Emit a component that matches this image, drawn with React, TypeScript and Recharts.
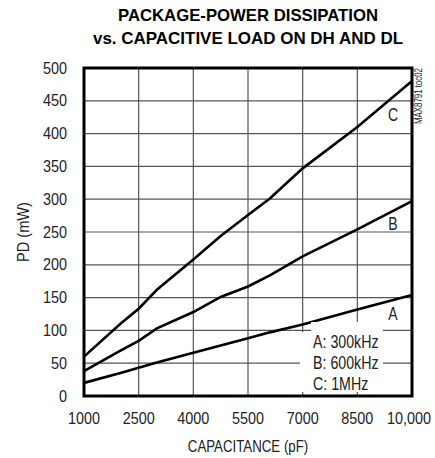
import React from "react";
import {
  LineChart,
  Line,
  XAxis,
  YAxis,
  CartesianGrid,
  ReferenceArea,
  ReferenceDot,
} from "recharts";

// capacitance (pF) and package power dissipation (mW) per switching frequency
const capacitance = [1000, 2000, 2500, 3000, 4000, 4750, 5500, 6100, 7000, 8500, 10000];
const powerA = [20, 35, 43, 51, 66, 77, 88, 97, 109, 132, 154]; // 300kHz
const powerB = [38, 69, 84, 103, 128, 151, 167, 184, 213, 254, 297]; // 600kHz
const powerC = [60, 110, 133, 162, 208, 244, 276, 301, 347, 410, 480]; // 1MHz

const xTicks = [1000, 2500, 4000, 5500, 7000, 8500, 10000];
const yTicks = [0, 50, 100, 150, 200, 250, 300, 350, 400, 450, 500];
const legendLines = ["A: 300kHz", "B: 600kHz", "C: 1MHz"];

const curveTags = [
  { name: "C", x: 9480, y: 429 },
  { name: "B", x: 9480, y: 263 },
  { name: "A", x: 9480, y: 125 },
];

const data = capacitance.map((cap, i) => ({
  cap,
  a: powerA[i],
  b: powerB[i],
  c: powerC[i],
}));

const FONT = "'Liberation Sans', Arial, sans-serif";
const INK = "#222";

const fmtX = (v: number) => (v === 10000 ? "10,000" : String(v));

// Helvetica-narrow look: regular sans squeezed horizontally
function Narrow({
  x,
  y,
  anchor = "start",
  size = 16,
  squeeze = 0.9,
  rotate = 0,
  dy,
  weight,
  children,
}: any) {
  return (
    <text
      x={0}
      y={0}
      dy={dy}
      transform={`translate(${x} ${y}) rotate(${rotate}) scale(${squeeze} 1)`}
      textAnchor={anchor}
      fontFamily={FONT}
      fontSize={size}
      fontWeight={weight}
      fill={INK}
    >
      {children}
    </text>
  );
}

const XTick = ({ x, y, payload }: any) => (
  <Narrow x={x - (payload.value === 10000 ? 3 : 0)} y={y} anchor="middle" dy="0.71em">
    {fmtX(payload.value)}
  </Narrow>
);

const YTick = ({ x, y, payload }: any) => (
  <Narrow x={x} y={y} anchor="end" dy="0.355em">
    {payload.value}
  </Narrow>
);

export default function App() {
  return (
    <div style={{ position: "absolute", left: 0, top: 0, width: 435, height: 458, background: "#fff" }}>
      <LineChart
        width={435}
        height={458}
        data={data}
        margin={{ top: 68, right: 23, bottom: 0, left: 0 }}
      >
        <CartesianGrid stroke="#555" strokeWidth={1.2} verticalValues={xTicks} horizontalValues={yTicks} />
        <XAxis
          dataKey="cap"
          type="number"
          domain={[1000, 10000]}
          ticks={xTicks}
          interval={0}
          axisLine={false}
          tickLine={false}
          tickSize={0}
          tickMargin={17}
          height={62}
          tick={XTick}
          label={{
            content: ({ viewBox }: any) => (
              <Narrow
                x={viewBox.x + viewBox.width / 2}
                y={viewBox.y + viewBox.height - 6}
                anchor="middle"
                squeeze={0.83}
              >
                CAPACITANCE (pF)
              </Narrow>
            ),
          }}
        />
        <YAxis
          type="number"
          domain={[0, 500]}
          ticks={yTicks}
          interval={0}
          axisLine={false}
          tickLine={false}
          tickSize={0}
          tickMargin={17}
          width={84}
          tick={YTick}
          label={{
            content: ({ viewBox }: any) => (
              <Narrow
                x={viewBox.x + 29}
                y={viewBox.y + viewBox.height / 2}
                anchor="middle"
                rotate={-90}
                squeeze={0.91}
              >
                PD (mW)
              </Narrow>
            ),
          }}
        />
        <Line dataKey="a" stroke="#000" strokeWidth={2.6} dot={false} isAnimationActive={false} />
        <Line dataKey="b" stroke="#000" strokeWidth={2.6} dot={false} isAnimationActive={false} />
        <Line dataKey="c" stroke="#000" strokeWidth={2.6} dot={false} isAnimationActive={false} />
        <ReferenceArea
          x1={1000}
          x2={10000}
          y1={0}
          y2={500}
          fill="none"
          fillOpacity={0}
          stroke="#000"
          strokeWidth={3}
          ifOverflow="visible"
        />
        {curveTags.map((t) => (
          <ReferenceDot
            key={t.name}
            x={t.x}
            y={t.y}
            r={0}
            stroke="none"
            fill="none"
            label={{
              content: ({ viewBox }: any) => (
                <Narrow x={viewBox.x} y={viewBox.y} anchor="middle" dy="0.355em" size={18} squeeze={0.78}>
                  {t.name}
                </Narrow>
              ),
            }}
          />
        ))}
      </LineChart>

      {/* title, legend box, figure id */}
      <svg
        width={435}
        height={458}
        style={{ position: "absolute", left: 0, top: 0, pointerEvents: "none" }}
      >
        <text
          x={248}
          y={21}
          textAnchor="middle"
          fontFamily={FONT}
          fontWeight="bold"
          fontSize={17}
          textLength={260}
          lengthAdjust="spacingAndGlyphs"
          fill="#000"
        >
          PACKAGE-POWER DISSIPATION
        </text>
        <text
          x={248}
          y={44}
          textAnchor="middle"
          fontFamily={FONT}
          fontWeight="bold"
          fontSize={17}
          textLength={310}
          lengthAdjust="spacingAndGlyphs"
          fill="#000"
        >
          vs. CAPACITIVE LOAD ON DH AND DL
        </text>

        <rect x={311} y={322} width={72} height={70} fill="#fff" />
        <rect x={300} y={332} width={83} height={60} fill="#fff" />
        {legendLines.map((s, i) => (
          <Narrow key={s} x={313} y={348 + i * 21} size={18} squeeze={0.79}>
            {s}
          </Narrow>
        ))}

        <text
          x={422}
          y={124}
          transform="rotate(-90 422 124)"
          fontFamily={FONT}
          fontSize={10}
          textLength={56}
          lengthAdjust="spacingAndGlyphs"
          fill={INK}
        >
          MAX8791 toc02
        </text>
      </svg>
    </div>
  );
}
